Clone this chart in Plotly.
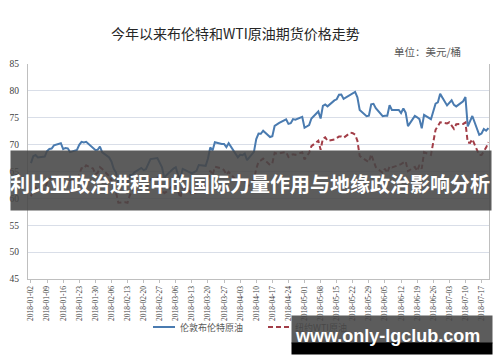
import plotly.graph_objects as go

# ---------------- data ----------------
months = {
    "01": [2, 3, 4, 5, 8, 9, 10, 11, 12, 15, 16, 17, 18, 19, 22, 23, 24, 25, 26, 29, 30, 31],
    "02": [1, 2, 5, 6, 7, 8, 9, 12, 13, 14, 15, 16, 19, 20, 21, 22, 23, 26, 27, 28],
    "03": [1, 2, 5, 6, 7, 8, 9, 12, 13, 14, 15, 16, 19, 20, 21, 22, 23, 26, 27, 28, 29],
    "04": [2, 3, 4, 5, 6, 9, 10, 11, 12, 13, 16, 17, 18, 19, 20, 23, 24, 25, 26, 27, 30],
    "05": [1, 2, 3, 4, 7, 8, 9, 10, 11, 14, 15, 16, 17, 18, 21, 22, 23, 24, 25, 28, 29, 30, 31],
    "06": [1, 4, 5, 6, 7, 8, 11, 12, 13, 14, 15, 18, 19, 20, 21, 22, 25, 26, 27, 28, 29],
    "07": [2, 3, 4, 5, 6, 9, 10, 11, 12, 13, 16, 17, 18, 19, 20],
}
dates = [f"2018-{m}-{d:02d}" for m, days in months.items() for d in days]

brent = [
    # Jan
    66.57, 67.84, 68.07, 67.62, 67.78, 68.82, 69.20, 69.26, 69.87, 70.26, 69.15,
    69.38, 69.31, 68.61, 69.03, 69.96, 70.53, 70.42, 70.52, 69.46, 69.02, 69.05,
    # Feb
    69.65, 68.58, 67.62, 66.86, 65.51, 64.81, 62.79, 62.59, 62.72, 64.36,
    64.33, 64.84, 65.67, 65.25, 65.42, 66.39, 67.31, 67.50, 66.63, 65.78,
    # Mar
    63.83, 64.37, 65.54, 65.79, 64.34, 63.61, 65.49, 64.95, 64.64, 64.89, 65.12,
    66.21, 66.05, 67.42, 69.47, 68.91, 70.45, 70.12, 70.11, 69.53, 70.27,
    # Apr
    67.64, 68.12, 68.02, 68.33, 67.11, 68.65, 71.04, 72.06, 72.02, 72.58, 71.42,
    71.58, 73.48, 73.78, 74.06, 74.71, 73.86, 74.00, 74.74, 74.64, 75.17,
    # May
    73.13, 73.36, 73.62, 74.87, 76.17, 74.85, 77.21, 77.47, 77.12, 78.23, 78.43, 79.28,
    79.30, 78.51, 79.22, 79.57, 79.80, 78.79, 76.44, 75.30, 75.39, 77.50, 77.59,
    # Jun
    76.79, 75.29, 75.38, 75.36, 77.32, 76.46, 76.46, 75.88, 76.74, 75.94, 73.44,
    75.34, 75.08, 74.74, 73.05, 75.55, 74.73, 76.31, 77.62, 77.85, 79.44,
    # Jul
    77.30, 77.76, 78.24, 77.39, 77.11, 78.07, 78.86, 73.40, 74.45, 75.33, 71.84,
    72.06, 72.90, 72.58, 73.07,
]

wti = [
    # Jan
    60.37, 61.63, 62.01, 61.44, 61.73, 62.96, 63.57, 63.80, 64.30, None, 63.73,
    63.97, 63.95, 63.37, 63.57, 64.47, 65.61, 65.51, 66.14, 65.56, 64.50, 64.73,
    # Feb
    65.80, 65.45, 64.15, 63.39, 61.79, 61.15, 59.20, 59.29, 59.19, 60.60,
    61.34, 61.68, None, 61.90, 61.68, 62.77, 63.55, 63.91, 63.01, 61.64,
    # Mar
    60.99, 61.25, 62.57, 62.60, 61.15, 60.12, 62.04, 61.36, 60.71, 60.96, 61.19,
    62.34, 62.06, 63.40, 65.17, 64.30, 65.88, 65.55, 65.25, 64.38, 64.94,
    # Apr
    63.01, 63.51, 63.37, 63.54, 62.06, 63.42, 65.51, 66.82, 67.07, 67.39, 66.22,
    66.52, 68.47, 68.29, 68.38, 68.64, 67.70, 68.05, 68.19, 68.10, 68.57,
    # May
    67.25, 67.93, 68.43, 69.72, 70.73, 69.06, 71.14, 71.36, 70.70, 70.96, 71.31, 71.49,
    71.49, 71.28, 72.24, 72.13, 71.84, 70.71, 67.88, None, 66.73, 68.21, 67.04,
    # Jun
    65.81, 64.75, 65.52, 64.73, 65.95, 65.74, 66.10, 66.36, 66.64, 66.89, 65.06,
    65.85, 65.07, 66.22, 65.54, 68.58, 68.08, 70.53, 72.76, 73.45, 74.15,
    # Jul
    73.94, 74.14, None, 72.94, 73.80, 73.85, 74.11, 70.38, 70.33, 71.01, 68.06,
    68.08, 68.76, 69.46, 70.46,
]

tick_labels = [
    "2018-01-02", "2018-01-09", "2018-01-16", "2018-01-23", "2018-01-30",
    "2018-02-06", "2018-02-13", "2018-02-20", "2018-02-27", "2018-03-06",
    "2018-03-13", "2018-03-20", "2018-03-27", "2018-04-03", "2018-04-10",
    "2018-04-17", "2018-04-24", "2018-05-01", "2018-05-08", "2018-05-15",
    "2018-05-22", "2018-05-29", "2018-06-05", "2018-06-12", "2018-06-19",
    "2018-06-26", "2018-07-03", "2018-07-10", "2018-07-17",
]

series_names = ["伦敦布伦特原油", "纽约WTI原油"]
title_text = "今年以来布伦特和WTI原油期货价格走势"
unit_text = "单位：美元/桶"
banner_text = "利比亚政治进程中的国际力量作用与地缘政治影响分析"
watermark_text = "www.only-lgclub.com"

# ---------------- figure ----------------
W, H = 500, 362
L, R, T, B = 28, 11, 64, 83
PW, PH = W - L - R, H - T - B


def px(x):
    return (x - L) / PW


def py(y):
    return (H - B - y) / PH


BLUE = "#4a7bb0"
RED = "#a23d47"
OVERLAY = "rgba(70,70,70,0.88)"

fig = go.Figure()
fig.add_trace(go.Scatter(x=dates, y=brent, mode="lines", name=series_names[0],
                         line=dict(color=BLUE, width=2), connectgaps=True,
                         showlegend=False))
fig.add_trace(go.Scatter(x=dates, y=wti, mode="lines", name=series_names[1],
                         line=dict(color=RED, width=2, dash="5px,3px"), connectgaps=True,
                         showlegend=False))

shapes = []
annotations = []

# manual legend
shapes.append(dict(type="line", xref="paper", yref="paper", x0=px(153), x1=px(175),
                   y0=py(327), y1=py(327), line=dict(color=BLUE, width=2)))
shapes.append(dict(type="line", xref="paper", yref="paper", x0=px(268), x1=px(291),
                   y0=py(327), y1=py(327), line=dict(color=RED, width=2, dash="5px,3px")))
annotations.append(dict(text=series_names[0], xref="paper", yref="paper", x=px(178), y=py(327),
                        xanchor="left", yanchor="middle", showarrow=False,
                        font=dict(family="Noto Sans CJK SC", size=9, color="#595959")))
annotations.append(dict(text=series_names[1], xref="paper", yref="paper", x=px(293), y=py(327),
                        xanchor="left", yanchor="middle", showarrow=False,
                        font=dict(family="Noto Sans CJK SC", size=9, color="#595959")))

# title and unit
annotations.append(dict(text=title_text, xref="paper", yref="paper", x=px(235), y=py(33),
                        xanchor="center", yanchor="middle", showarrow=False,
                        font=dict(family="Noto Sans CJK SC", size=14, color="#262626")))
annotations.append(dict(text=unit_text, xref="paper", yref="paper", x=px(392), y=py(52),
                        xanchor="left", yanchor="middle", showarrow=False,
                        font=dict(family="Noto Sans CJK SC", size=10.5, color="#595959")))

# banner overlay (annotation box so it sits above the axis labels too)
annotations.append(dict(text=" ", xref="paper", yref="paper", x=px(10), y=py(150),
                        xanchor="left", yanchor="top", showarrow=False, width=480, height=59,
                        borderpad=0, bgcolor=OVERLAY, font=dict(size=4)))
annotations.append(dict(text=banner_text, xref="paper", yref="paper", x=px(250), y=py(183),
                        xanchor="center", yanchor="middle", showarrow=False,
                        font=dict(family="Noto Sans CJK SC", size=20, color="white",
                                  weight="bold")))

# watermark (drawn after legend so it sits on top)
annotations.append(dict(text=" ", xref="paper", yref="paper", x=px(291), y=py(315),
                        xanchor="left", yanchor="top", showarrow=False, width=200, height=27,
                        borderpad=0, bgcolor=OVERLAY, font=dict(size=4)))
annotations.append(dict(text=" ", xref="paper", yref="paper", x=px(291), y=py(342),
                        xanchor="left", yanchor="top", showarrow=False, width=200, height=11,
                        borderpad=0, bgcolor="black", font=dict(size=4)))
annotations.append(dict(text=watermark_text, xref="paper", yref="paper", x=px(387), y=py(336),
                        xanchor="center", yanchor="middle", showarrow=False,
                        font=dict(family="Liberation Sans", size=18, color="white",
                                  weight="bold")))

fig.update_layout(
    width=W, height=H,
    margin=dict(l=L, r=R, t=T, b=B, autoexpand=False),
    paper_bgcolor="white", plot_bgcolor="white",
    showlegend=False,
    shapes=shapes, annotations=annotations,
    xaxis=dict(type="date", range=["2017-12-31 17:00", "2018-07-20 06:00"],
               tickmode="array", tickvals=tick_labels, ticktext=tick_labels,
               tickangle=-90, ticks="outside", ticklen=3, tickcolor="#bfbfbf",
               showline=True, linecolor="#bfbfbf", linewidth=1, showgrid=False,
               tickfont=dict(family="Liberation Serif", size=7.5, color="#404040")),
    yaxis=dict(range=[45, 85], dtick=5, tick0=45, showgrid=True, gridcolor="#d9dee8",
               gridwidth=1, showline=True, linecolor="#bfbfbf", mirror=True,
               ticks="outside", ticklen=6, tickcolor="rgba(0,0,0,0)", zeroline=False,
               tickfont=dict(family="Liberation Serif", size=9.5, color="#404040")),
)

fig.write_html("out.html", config={"displayModeBar": False},
               post_script="document.body.style.margin='0px';")
